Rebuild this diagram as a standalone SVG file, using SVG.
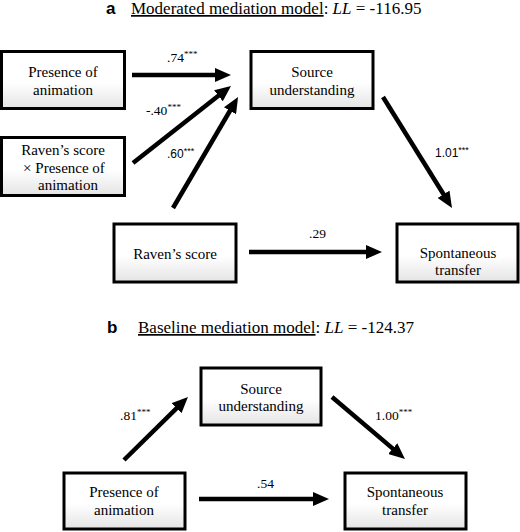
<svg xmlns="http://www.w3.org/2000/svg" width="520" height="532" viewBox="0 0 520 532">
<defs>
<linearGradient id="bg" x1="0" y1="0" x2="0" y2="1">
<stop offset="0" stop-color="#ffffff"/>
<stop offset="0.55" stop-color="#ffffff"/>
<stop offset="1" stop-color="#e4e4e4"/>
</linearGradient>
<marker id="ah" markerUnits="userSpaceOnUse" markerWidth="16" markerHeight="14" refX="2" refY="7" orient="auto">
<path d="M0,0 L16,7 L0,14 z" fill="#000"/>
</marker>
</defs>
<style>
.box{fill:url(#bg);stroke:#000;stroke-width:3}
.t{font-family:"Liberation Serif","Times New Roman",serif;font-size:15px;fill:#000;text-anchor:middle}
.title{font-family:"Liberation Serif","Times New Roman",serif;font-size:17px;fill:#000}
.lbl{font-family:"Liberation Serif","Times New Roman",serif;font-size:13.5px;fill:#000}
.lbls{font-family:"Liberation Sans",Arial,sans-serif;font-size:12px;fill:#000}
.sup{font-size:9px}
.c{stroke:#000;stroke-width:4.5;fill:none;marker-end:url(#ah)}
</style>
<rect width="520" height="532" fill="#fff"/>

<g id="title-a">
<text class="title" x="106" y="14"><tspan font-family="Liberation Sans,Arial,sans-serif" font-weight="bold">a</tspan><tspan x="131" text-decoration="underline">Moderated mediation model</tspan><tspan>: </tspan><tspan font-style="italic">LL</tspan><tspan> = -116.95</tspan></text>
</g>

<g id="a-presence">
<rect class="box" x="1.5" y="51.5" width="123" height="57"/>
<text class="t" x="63" y="77">Presence of</text>
<text class="t" x="63" y="95">animation</text>
</g>
<g id="a-source">
<rect class="box" x="251" y="51.5" width="122" height="57"/>
<text class="t" x="312" y="77">Source</text>
<text class="t" x="312" y="95">understanding</text>
</g>
<g id="a-interaction">
<rect class="box" x="1.5" y="137.5" width="123" height="58"/>
<text class="t" x="63" y="155">Raven’s score</text>
<text class="t" x="64" y="173">× Presence of</text>
<text class="t" x="68" y="190">animation</text>
</g>
<g id="a-raven">
<rect class="box" x="114" y="224" width="122" height="58"/>
<text class="t" x="175" y="259">Raven’s score</text>
</g>
<g id="a-transfer">
<rect class="box" x="397" y="224" width="121" height="58"/>
<text class="t" x="458" y="258">Spontaneous</text>
<text class="t" x="458" y="275">transfer</text>
</g>

<g id="title-b">
<text class="title" x="107" y="333"><tspan font-family="Liberation Sans,Arial,sans-serif" font-weight="bold">b</tspan><tspan x="138" text-decoration="underline">Baseline mediation model</tspan><tspan>: </tspan><tspan font-style="italic">LL</tspan><tspan> = -124.37</tspan></text>
</g>

<g id="b-source">
<rect class="box" x="201" y="368" width="120" height="57"/>
<text class="t" x="261" y="394">Source</text>
<text class="t" x="261" y="411">understanding</text>
</g>
<g id="b-presence">
<rect class="box" x="64" y="473" width="121" height="56"/>
<text class="t" x="124" y="497">Presence of</text>
<text class="t" x="124" y="515">animation</text>
</g>
<g id="b-transfer">
<rect class="box" x="345" y="473" width="121" height="56"/>
<text class="t" x="405" y="497">Spontaneous</text>
<text class="t" x="405" y="515">transfer</text>
</g>

<g id="connectors">
<line class="c" x1="132" y1="75" x2="217" y2="75"/>
<line class="c" x1="133" y1="163" x2="220" y2="94.6"/>
<line class="c" x1="173" y1="208" x2="231" y2="109"/>
<line class="c" x1="249" y1="252" x2="368" y2="252"/>
<line class="c" x1="383" y1="97" x2="444.6" y2="196"/>
<line class="c" x1="124" y1="460" x2="178" y2="406.8"/>
<line class="c" x1="332" y1="397" x2="394.3" y2="449.9"/>
<line class="c" x1="199" y1="499" x2="315" y2="499"/>
<text class="lbl" x="167" y="62">.74<tspan class="sup" dy="-5">***</tspan></text>
<text class="lbl" x="146" y="115">-.40<tspan class="sup" dy="-5">***</tspan></text>
<text class="lbls" x="167" y="158">.60<tspan class="sup" dy="-4">***</tspan></text>
<text class="lbl" x="309" y="238">.29</text>
<text class="lbls" x="435" y="157">1.01<tspan class="sup" dy="-4">***</tspan></text>
<text class="lbl" x="120" y="420">.81<tspan class="sup" dy="-5">***</tspan></text>
<text class="lbl" x="375" y="420">1.00<tspan class="sup" dy="-5">***</tspan></text>
<text class="lbl" x="257" y="488">.54</text>
</g>
</svg>
